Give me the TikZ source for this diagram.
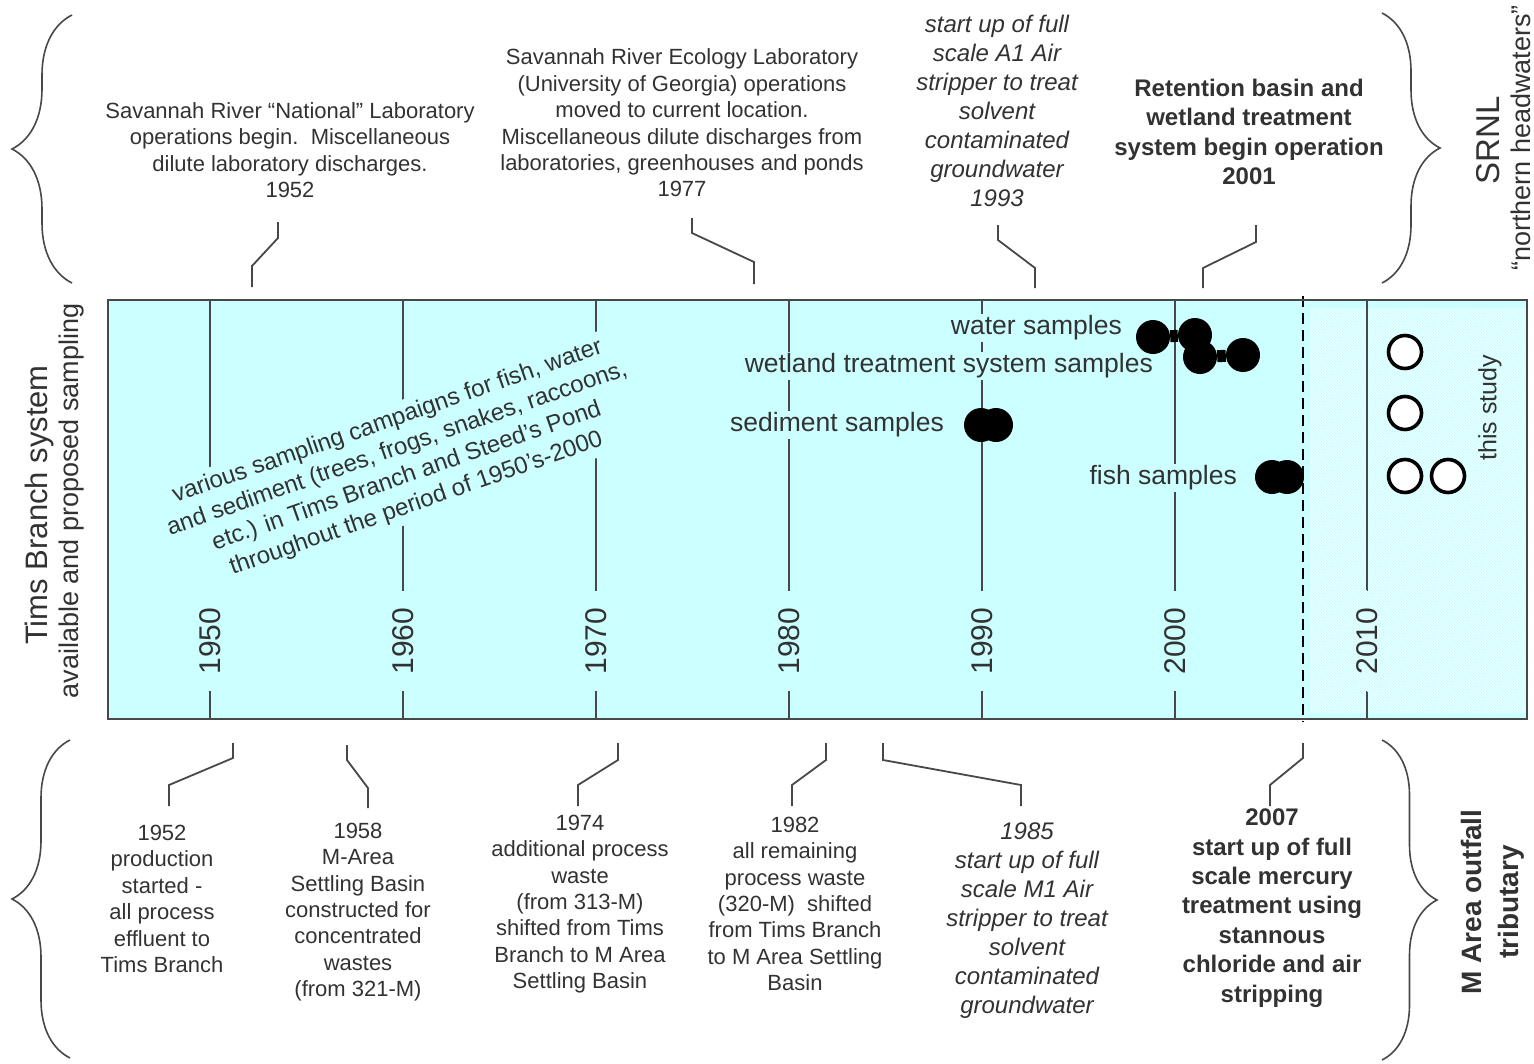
\documentclass[tikz,border=0pt]{standalone}
\usepackage{fontspec}
\setmainfont{Liberation Sans}
\usetikzlibrary{positioning}
\usetikzlibrary{decorations.pathreplacing}
\usetikzlibrary{patterns}
\usepackage{xcolor}

\definecolor{tbcyan}{RGB}{204,255,255}
\definecolor{inkgray}{RGB}{50,50,50}
\definecolor{rulegray}{RGB}{72,72,72}
\newcommand\fsz[2]{\fontsize{#1}{#2}\selectfont}

\begin{document}
\begin{tikzpicture}[
  x=1pt, y=-1pt,
  every node/.style={text=inkgray},
  event/.style={align=center, font=\fsz{22}{26.4}},
  eventit/.style={align=center, font=\fsz{24}{29}\itshape},
  eventbf/.style={align=center, font=\fsz{24}{29.4}\bfseries},
  leader/.style={draw=rulegray, line width=1.8pt},
  yearline/.style={draw=rulegray, line width=1.4pt},
  yearlbl/.style={rotate=90, fill=tbcyan, font=\fsz{30}{30}, inner xsep=17pt, inner ysep=3pt},
  samplbl/.style={anchor=east, fill=tbcyan, font=\fsz{26.5}{26.5}, inner sep=2pt},
  fulldot/.style={circle, fill=black, minimum size=34pt, inner sep=0pt},
  opendot/.style={circle, draw=black, fill=white, line width=3.6pt, minimum size=33pt, inner sep=0pt},
  grpbrace/.style={decorate, decoration={brace, amplitude=#1}, draw=rulegray, line width=1.6pt},
  sidelbl/.style={rotate=90, font=\fsz{#1}{#1}}
]
\useasboundingbox (0,0) rectangle (1534,1063);

% timeline band
\fill[tbcyan] (108,300) rectangle (1527,719);
\fill[pattern=north east lines, pattern color=white] (1310,308) rectangle (1525,712);

\foreach \yr/\xx in {1950/210,1960/403,1970/596,1980/789,1990/982,2000/1175,2010/1367}
  \draw[yearline] (\xx,300) -- (\xx,719);
\foreach \yr/\xx in {1950/210,1960/403,1970/596,1980/789,1990/982,2000/1175}
  \node[yearlbl] (yr\yr) at (\xx,641) {\yr};
\node[yearlbl, postaction={pattern=north east lines, pattern color=white}] (yr2010) at (1367,641) {2010};

\node[align=center, rotate=19.3, fill=tbcyan, font=\fsz{24}{29}, inner sep=5pt] (campaigns) at (402,463)
  {various sampling campaigns for fish, water\\and sediment (trees, frogs, snakes, raccoons,\\etc.) in Tims Branch and Steed’s Pond\\throughout the period of 1950’s-2000};

\node[samplbl] (lblwater) at (1124,328) {water samples};
\node[samplbl] (lblwetland) at (1155,366) {wetland treatment system samples};
\node[samplbl] (lblsed) at (946,425) {sediment samples};
\node[samplbl] (lblfish) at (1239,478) {fish samples};

% available samples
\node[fulldot] (wat1) at (1153,337) {};
\node[fulldot] (wat2) at (1195,335) {};
\node[fulldot] (wet1) at (1200,357) {};
\node[fulldot] (wet2) at (1243,355) {};
\draw[line width=12pt] (wat1) -- (wat2);
\draw[line width=12pt] (wet1) -- (wet2);
\node[fulldot] (sed1) at (981,425) {};
\node[fulldot] (sed2) at (996,425) {};
\node[fulldot] (fish1) at (1272,477) {};
\node[fulldot] (fish2) at (1287,477) {};

% proposed samples
\node[opendot] (new1) at (1405,352) {};
\node[opendot] (new2) at (1405,413) {};
\node[opendot] (new3) at (1405,476) {};
\node[opendot] (new4) at (1448,476) {};

\coordinate (cuttop) at (1303,296);
\coordinate (cutbot) at (1303,722);
\draw[line width=2.6pt, dash pattern=on 11pt off 6pt] (cuttop) -- (cutbot);

\draw[draw=rulegray, line width=2pt] (108,300) rectangle (1527,719);

% side labels
\node[sidelbl=31] (tbsys) at (39,505) {Tims Branch system};
\node[sidelbl=27] (tbsamp) at (72,501) {available and proposed sampling};
\node[sidelbl=33] (srnl) at (1488,140) {SRNL};
\node[sidelbl=27] (headw) at (1521,138) {“northern headwaters”};
\node[sidelbl=25] (study) at (1490,408) {this study};
\node[rotate=90, align=center, font=\fsz{28}{37}\bfseries] (marea) at (1493,902) {M Area outfall\\tributary};

% braces
\draw[grpbrace=60pt] (72,283) -- (72,15);
\draw[grpbrace=58pt] (1382,13) -- (1382,283);
\draw[grpbrace=58pt] (70,1058) -- (70,740);
\draw[grpbrace=55pt] (1382,740) -- (1382,1060);

% upper events
\node[event] (ev1952) at (290,150) {Savannah River “National” Laboratory\\operations begin.\ \ Miscellaneous\\dilute laboratory discharges.\\1952};
\node[event] (ev1977) at (682,123) {Savannah River Ecology Laboratory\\(University of Georgia) operations\\moved to current location.\\Miscellaneous dilute discharges from\\laboratories, greenhouses and ponds\\1977};
\node[eventit] (ev1993) at (997,111) {start up of full\\scale A1 Air\\stripper to treat\\solvent\\contaminated\\groundwater\\1993};
\node[eventbf] (ev2001) at (1249,132) {Retention basin and\\wetland treatment\\system begin operation\\2001};

\coordinate (ua52) at (278,222);  \coordinate (ub52) at (252,287);
\coordinate (ua77) at (692,218);  \coordinate (ub77) at (754,284);
\coordinate (ua93) at (998,225);  \coordinate (ub93) at (1035,288);
\coordinate (ua01) at (1256,225); \coordinate (ub01) at (1203,288);
\draw[leader] (ua52) -- ++(0,16) -- ++(-26,28) -- (ub52);
\draw[leader] (ua77) -- ++(0,15) -- ++(62,29) -- (ub77);
\draw[leader] (ua93) -- ++(0,15) -- ++(37,28) -- (ub93);
\draw[leader] (ua01) -- ++(0,17) -- ++(-53,26) -- (ub01);

% lower events
\node[event] (ev1952m) at (162,899) {1952\\production\\started -\\all process\\effluent to\\Tims Branch};
\node[event] (ev1958) at (358,912) {1958\\M-Area\\Settling Basin\\constructed for\\concentrated\\wastes\\(from 321-M)};
\node[event] (ev1974) at (580,904) {1974\\additional process\\waste\\(from 313-M)\\shifted from Tims\\Branch to M Area\\Settling Basin};
\node[event] (ev1982) at (795,904) {1982\\all remaining\\process waste\\(320-M)\ \ shifted\\from Tims Branch\\to M Area Settling\\Basin};
\node[eventit] (ev1985) at (1027,921) {1985\\start up of full\\scale M1 Air\\stripper to treat\\solvent\\contaminated\\groundwater};
\node[eventbf] (ev2007) at (1272,908) {2007\\start up of full\\scale mercury\\treatment using\\stannous\\chloride and air\\stripping};

\coordinate (la52) at (233,743);  \coordinate (lb52) at (169,806);
\coordinate (la58) at (347,745);  \coordinate (lb58) at (368,808);
\coordinate (la74) at (618,743);  \coordinate (lb74) at (578,806);
\coordinate (la82) at (826,743);  \coordinate (lb82) at (792,806);
\coordinate (la85) at (883,743);  \coordinate (lb85) at (1021,806);
\coordinate (la07) at (1303,743); \coordinate (lb07) at (1270,806);
\draw[leader] (la52) -- ++(0,15) -- ++(-64,27) -- (lb52);
\draw[leader] (la58) -- ++(0,15) -- ++(21,28) -- (lb58);
\draw[leader] (la74) -- ++(0,17) -- ++(-40,25) -- (lb74);
\draw[leader] (la82) -- ++(0,17) -- ++(-34,25) -- (lb82);
\draw[leader] (la85) -- ++(0,17) -- ++(138,25) -- (lb85);
\draw[leader] (la07) -- ++(0,15) -- ++(-33,27) -- (lb07);

\end{tikzpicture}
\end{document}
